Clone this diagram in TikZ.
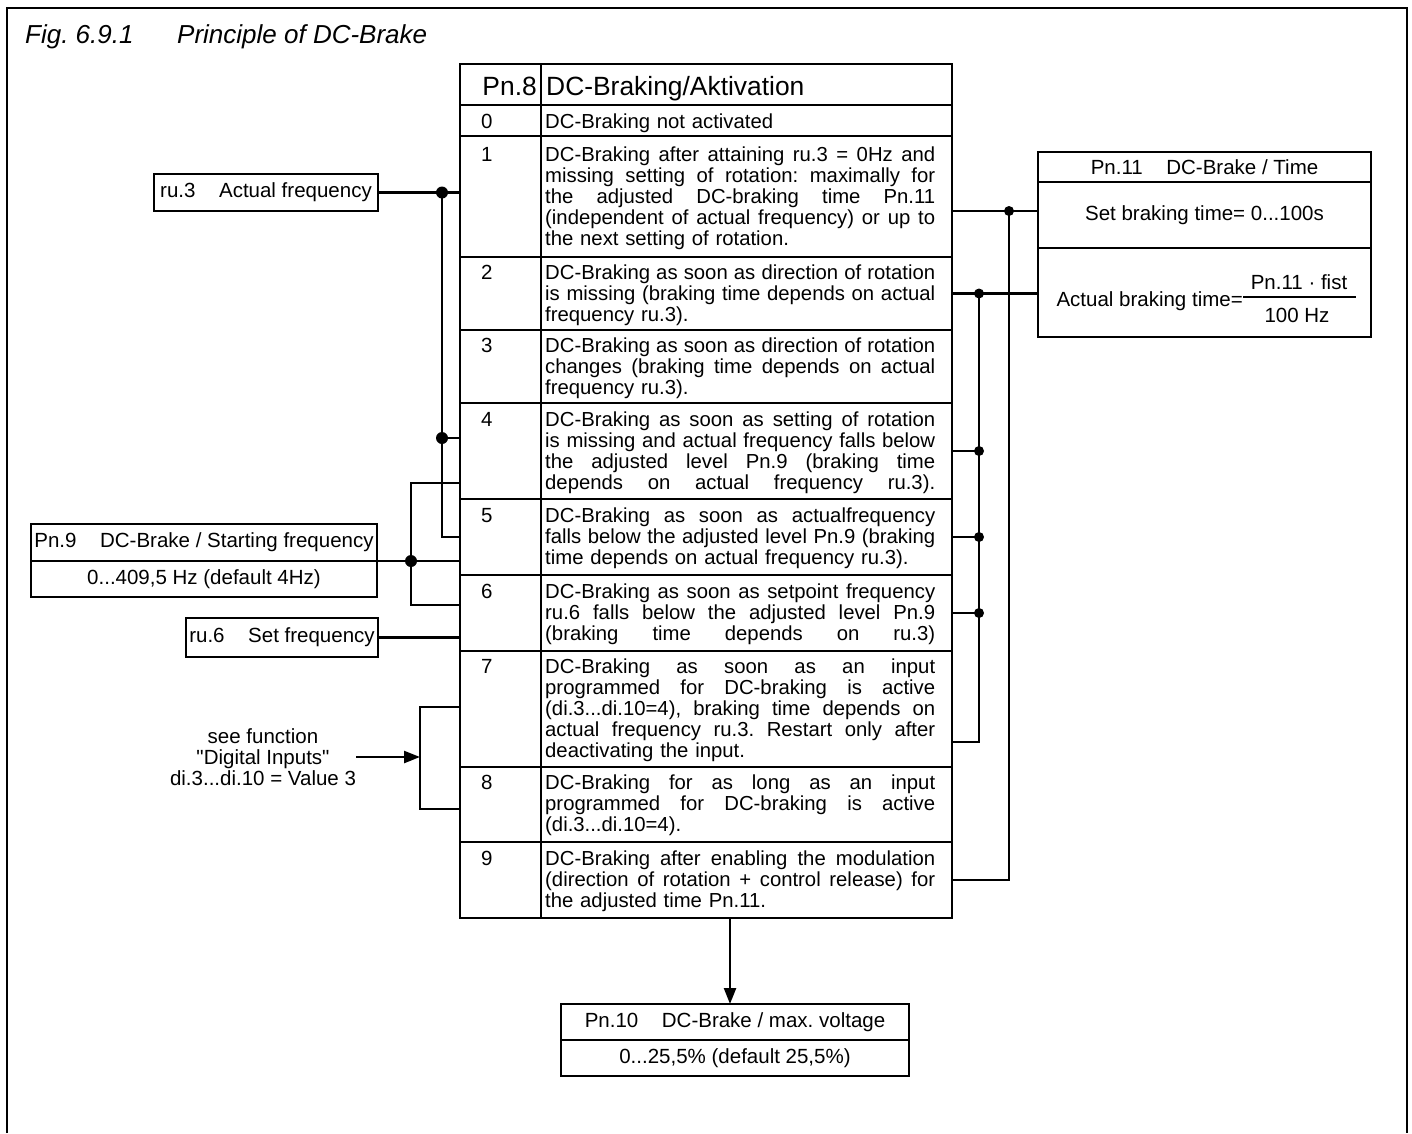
\documentclass[tikz,border=0pt]{standalone}
\usepackage{fontspec}
\setmainfont{Liberation Sans}
\usetikzlibrary{positioning,arrows.meta,calc}
\frenchspacing
\newcommand{\jline}[1]{\leavevmode\hbox to 390pt{\spaceskip=0.278em plus 1fil minus 0.06em\relax #1}}

\begin{document}
\begin{tikzpicture}[
    x=1pt, y=-1pt,
    font=\fontsize{20.5}{21}\selectfont,
    tbl/.style={draw, line width=2.8pt},
    rowbox/.style={tbl, minimum width=492pt, inner sep=0pt, outer sep=0pt, anchor=north west},
    box/.style={tbl, inner sep=0pt, outer sep=0pt},
    wire/.style={line width=2.4pt},
    arr/.style={wire, -{Triangle[length=16pt, width=12pt]}},
    dot/.style={circle, fill, inner sep=0pt, minimum size=12pt},
    lbl/.style={inner sep=0pt},
    rowtxt/.style={lbl, anchor=base west, text width=390pt, align=left, font=\fontsize{20.3}{21}\selectfont},
    num/.style={lbl, anchor=base west},
  ]
  \def\G{\hspace{1.15em}}
  \useasboundingbox (0,0) rectangle (1412,1133);
  \draw[line width=2.2pt] (7,1133) |- (1407,8) -- (1407,1133);

  \node[lbl, anchor=base west, font=\fontsize{26}{30}\selectfont\itshape] (fig) at (25,43) {Fig. 6.9.1};
  \node[lbl, anchor=base west, font=\fontsize{26}{30}\selectfont\itshape] (ttl) at (177,43) {Principle of DC-Brake};

  % Pn.8 table
  \foreach \i/\ya/\yb in {h/64/105, 0/105/136, 1/136/257, 2/257/330, 3/330/403, 4/403/499,
      5/499/575, 6/575/651, 7/651/767, 8/767/842, 9/842/918}
    \node[rowbox, minimum height={(\yb-\ya)*1pt}] (r\i) at (460,\ya) {};
  \draw[tbl] (rh.north -| 541,0) -- (r9.south -| 541,0);
  \node[lbl, anchor=base east, font=\fontsize{26.4}{30}\selectfont] (hnum) at (537,95) {Pn.8};
  \node[lbl, anchor=base west, font=\fontsize{26.4}{30}\selectfont] (hcap) at (546,95) {DC-Braking/Aktivation};
  \foreach \i/\y in {0/128, 1/161, 2/279, 3/352, 4/426, 5/522, 6/598, 7/673, 8/789, 9/865}
    \node[num] (n\i) at (481,\y) {\i};

  \node[rowtxt] (t0) at (545,128) {DC-Braking not activated};
  \node[rowtxt] (t1) at (545,161) {\jline{DC-Braking after attaining ru.3 = 0Hz and}\\
    \jline{missing setting of rotation: maximally for}\\
    \jline{the adjusted DC-braking time Pn.11}\\
    \jline{(independent of actual frequency) or up to}\\
    the next setting of rotation.};
  \node[rowtxt] (t2) at (545,279) {\jline{DC-Braking as soon as direction of rotation}\\
    \jline{is missing (braking time depends on actual}\\
    frequency ru.3).};
  \node[rowtxt] (t3) at (545,352) {\jline{DC-Braking as soon as direction of rotation}\\
    \jline{changes (braking time depends on actual}\\
    frequency ru.3).};
  \node[rowtxt] (t4) at (545,426) {\jline{DC-Braking as soon as setting of rotation}\\
    \jline{is missing and actual frequency falls below}\\
    \jline{the adjusted level Pn.9 (braking time}\\
    \jline{depends on actual frequency ru.3).}};
  \node[rowtxt] (t5) at (545,522) {\jline{DC-Braking as soon as actualfrequency}\\
    \jline{falls below the adjusted level Pn.9 (braking}\\
    time depends on actual frequency ru.3).};
  \node[rowtxt] (t6) at (545,598) {\jline{DC-Braking as soon as setpoint frequency}\\
    \jline{ru.6 falls below the adjusted level Pn.9}\\
    \jline{(braking time depends on ru.3)}};
  \node[rowtxt] (t7) at (545,673) {\jline{DC-Braking as soon as an input}\\
    \jline{programmed for DC-braking is active}\\
    \jline{(di.3...di.10=4), braking time depends on}\\
    \jline{actual frequency ru.3. Restart only after}\\
    deactivating the input.};
  \node[rowtxt] (t8) at (545,789) {\jline{DC-Braking for as long as an input}\\
    \jline{programmed for DC-braking is active}\\
    (di.3...di.10=4).};
  \node[rowtxt] (t9) at (545,865) {\jline{DC-Braking after enabling the modulation}\\
    \jline{(direction of rotation + control release) for}\\
    the adjusted time Pn.11.};

  % parameter boxes
  \node[box, minimum width=224pt, minimum height=37pt] (ru3) at (266,192.5) {ru.3\G Actual frequency};
  \node[box, minimum width=346pt, minimum height=37pt] (pn9) at (204,542.5) {Pn.9\G DC-Brake / Starting frequency};
  \node[box, minimum width=346pt, minimum height=36pt, below=0pt of pn9] (pn9v) {0...409,5 Hz (default 4Hz)};
  \node[box, minimum width=192pt, minimum height=39pt] (ru6) at (282,637.5) {ru.6\G Set frequency};
  \node[lbl, align=center] (dinote) at (263,757) {see function\\\textquotedbl Digital Inputs\textquotedbl\\di.3...di.10 = Value 3};

  \node[box, minimum width=333pt, minimum height=30pt] (pn11) at (1204.5,167) {Pn.11\G DC-Brake / Time};
  \node[box, minimum width=333pt, minimum height=66pt, below=0pt of pn11] (pn11s) {Set braking time= 0...100s};
  \node[box, minimum width=333pt, minimum height=89pt, below=0pt of pn11s] (pn11a) {};
  \node[lbl, anchor=base east] (abt) at (1243,306) {Actual braking time=};
  \node[lbl, anchor=base] (fnum) at (1299,289) {Pn.11 · fist};
  \node[lbl, anchor=base] (fden) at (1297,322) {100 Hz};
  \draw[line width=2pt] (1243,297) -- (1356,297);

  \node[box, minimum width=348pt, minimum height=36pt] (pn10) at (735,1022) {Pn.10\G DC-Brake / max. voltage};
  \node[box, minimum width=348pt, minimum height=36pt, below=0pt of pn10] (pn10v) {0...25,5\% (default 25,5\%)};

  % left connections
  \coordinate (ja) at (ru3.east -| 442,0);
  \coordinate (jb) at (442,438);
  \draw[wire] (ru3.east) -- (ru3.east -| r1.west);
  \draw[wire] (ja) |- (r5.west);
  \draw[wire] (jb) -- (jb -| r4.west);
  \coordinate (jc) at (pn9.south east -| 411,0);
  \draw[wire] (pn9.south east) -- (pn9.south east -| r5.west);
  \draw[wire] (r4.west |- 0,483) -| (jc) |- (r6.west |- 0,605);
  \draw[wire] (ru6.east) -- (ru6.east -| r6.west);
  \foreach \j in {ja,jb,jc} \node[dot] (d\j) at (\j) {};
  \coordinate (jd) at (420,757);
  \draw[arr] (dinote.east |- jd) -- (jd);
  \draw[wire] (r7.west |- 0,707) -| (jd) |- (r8.west |- 0,809);

  % right connections
  \coordinate (je) at (1009,211);
  \coordinate (jf) at (r2.east -| 979,0);
  \draw[wire] (r1.east |- je) -- (pn11s.west |- je);
  \draw[wire] (je) |- (r9.east);
  \draw[wire] (r2.east) -- (r2.east -| pn11a.west);
  \draw[wire] (jf) |- (r7.east |- 0,742);
  \foreach \r in {4,5,6}
    \draw[wire] (r\r.east) -- (r\r.east -| jf) node[dot, minimum size=10pt] (dr\r) {};
  \foreach \j in {je,jf} \node[dot, minimum size=10pt] (d\j) at (\j) {};

  \draw[arr] (r9.south -| 730,0) -- (pn10.north -| 730,0);
\end{tikzpicture}
\end{document}
